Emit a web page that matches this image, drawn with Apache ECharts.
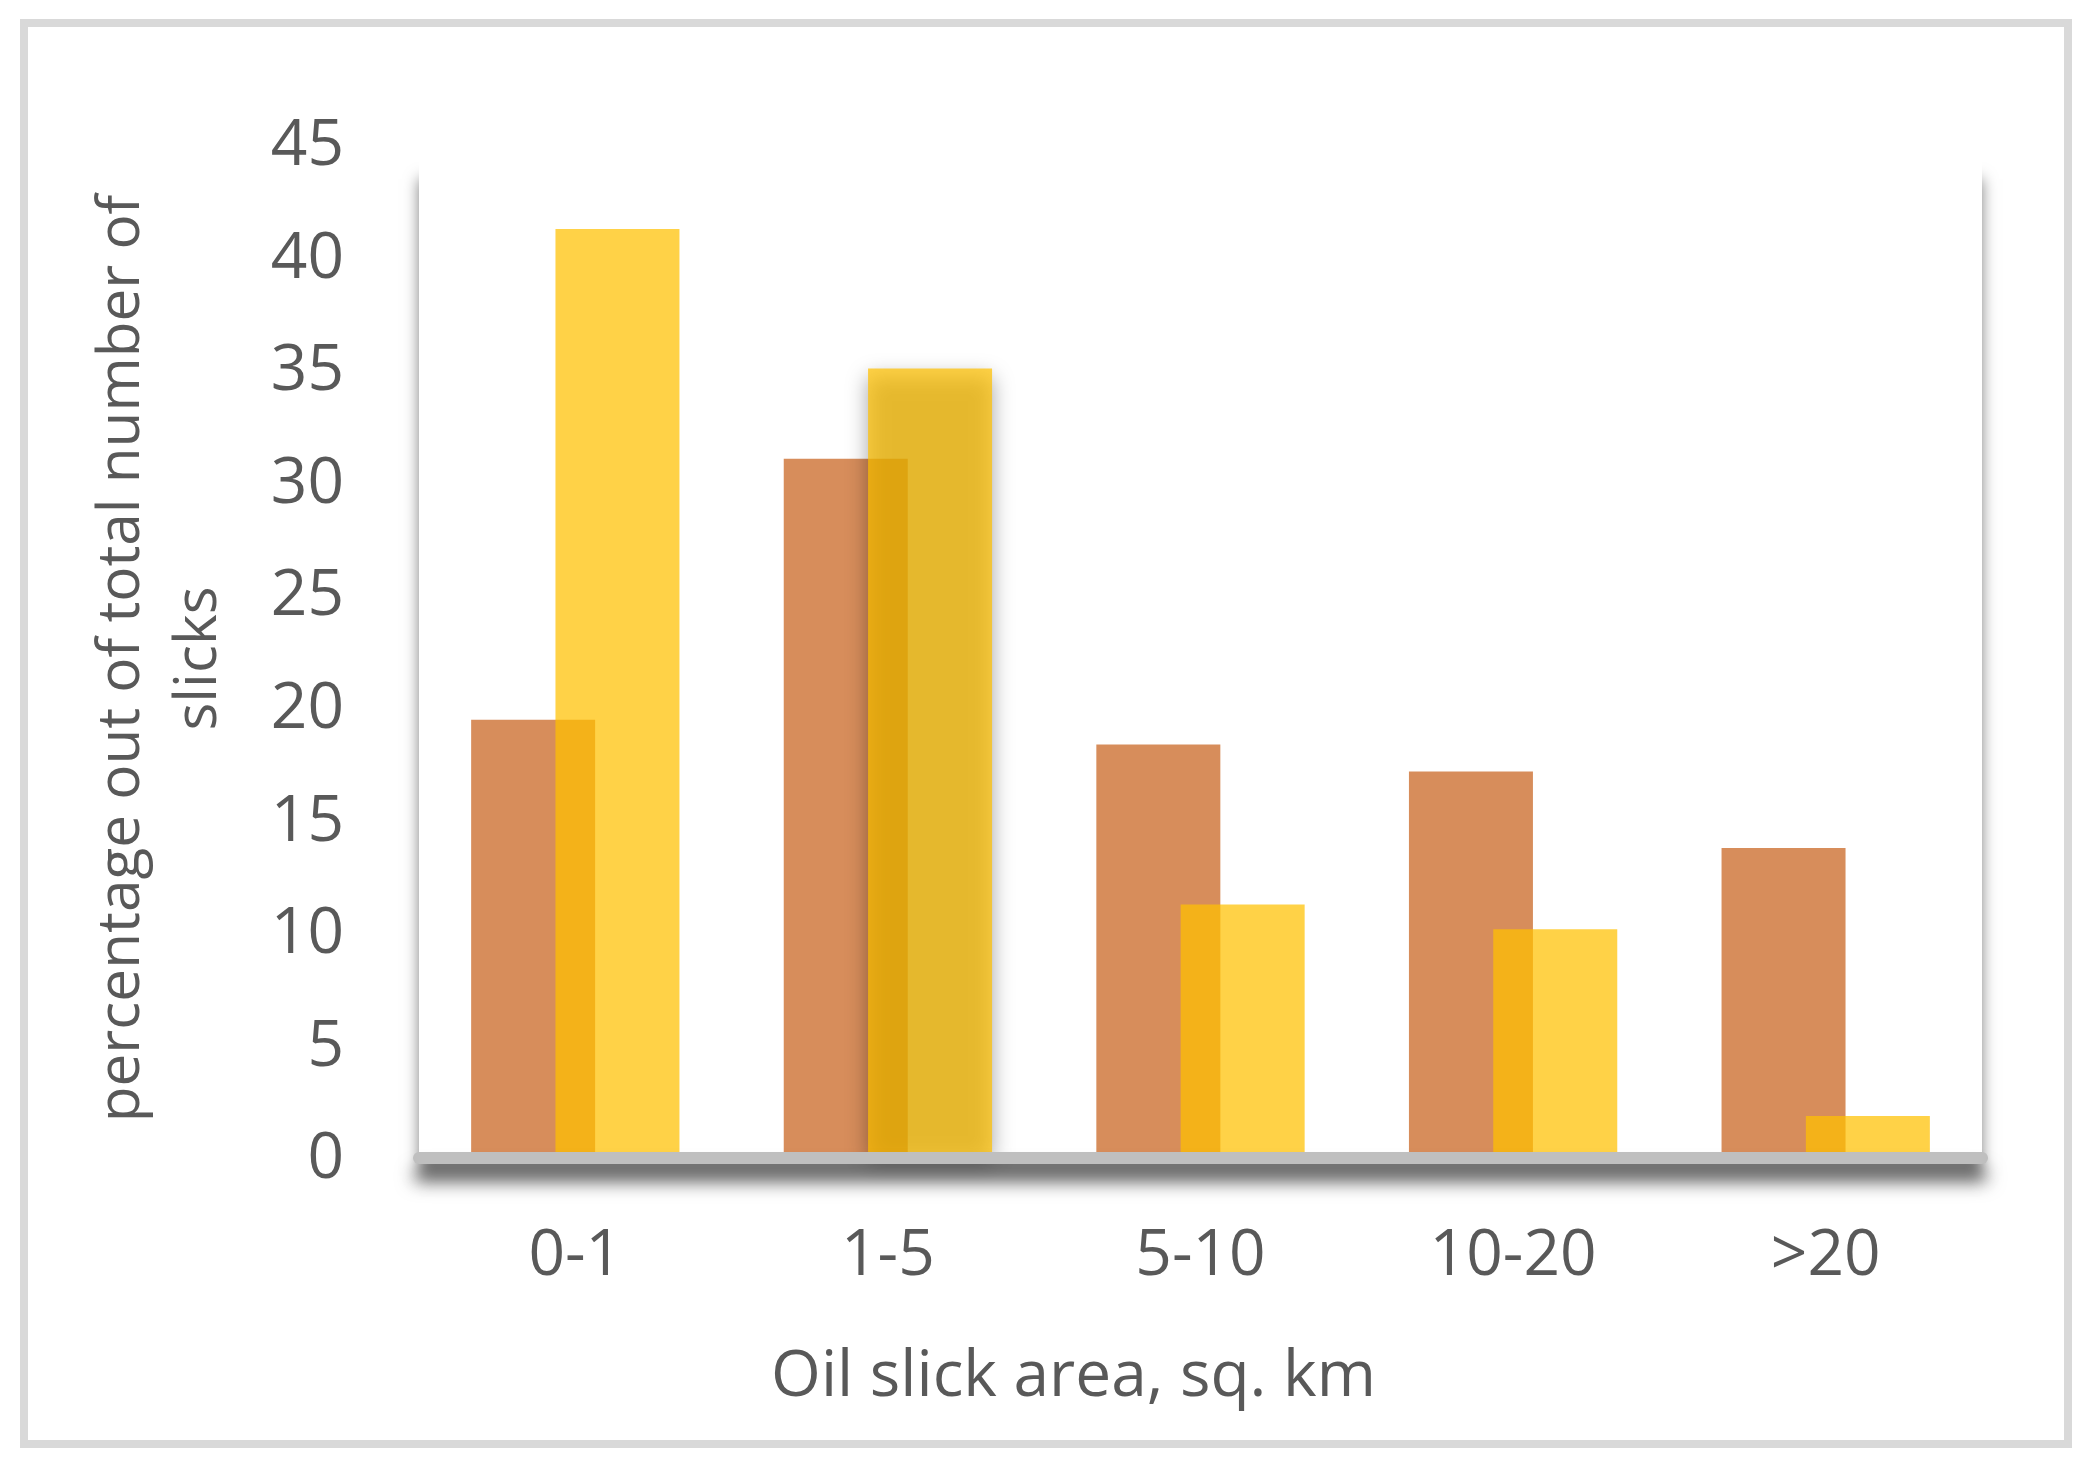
<!DOCTYPE html>
<html>
<head>
<meta charset="utf-8">
<script src="https://cdn.jsdelivr.net/npm/echarts@6/dist/echarts.min.js"></script>
<style>
  html, body { margin: 0; padding: 0; background: #fff; }
  #chart { width: 2091px; height: 1484px; }
</style>
</head>
<body>
<div id="chart"></div>
<script>
const categories = ["0-1", "1-5", "5-10", "10-20", ">20"];
const orangeValues = [19.2, 30.8, 18.1, 16.9, 13.5];
const yellowValues = [41.0, 34.8, 11.0, 9.9, 1.6];
const yTicks = [0, 5, 10, 15, 20, 25, 30, 35, 40, 45];

const textColor = "#595959";
const fontFamily = "'Open Sans', 'Noto Sans', sans-serif";

const chart = echarts.init(document.getElementById("chart"));

// the 1-5 yellow bar has a soft shadow falling over it in the original
const yellowData = yellowValues.map((v, i) =>
  i === 1
    ? {
        value: v,
        itemStyle: {
          shadowBlur: 20,
          shadowOffsetY: 8,
          shadowColor: "rgba(0, 0, 0, 0.5)",
        },
      }
    : v
);

const option = {
  animation: false,
  backgroundColor: "#ffffff",
  textStyle: { fontFamily: fontFamily },
  graphic: [
    {
      // outer frame
      type: "rect",
      z: -10,
      shape: { x: 24, y: 23, width: 2044, height: 1421 },
      style: { fill: "#ffffff", stroke: "#d9d9d9", lineWidth: 8 },
    },
    {
      // plot area panel with shadow
      type: "rect",
      z: -5,
      shape: { x: 419, y: 155, width: 1563, height: 997 },
      style: {
        fill: "#ffffff",
        shadowBlur: 14,
        shadowOffsetY: 24,
        shadowColor: "rgba(0, 0, 0, 0.5)",
      },
    },
  ],
  grid: {
    left: 419,
    right: 109,
    top: 139,
    bottom: 332,
    containLabel: false,
  },
  xAxis: {
    type: "category",
    data: categories,
    offset: 6,
    z: 5,
    axisLine: {
      show: true,
      onZero: false,
      lineStyle: {
        color: "#bfbfbf",
        width: 12,
        shadowColor: "rgba(0, 0, 0, 0.55)",
        shadowBlur: 18,
        shadowOffsetY: 18,
      },
    },
    axisTick: { show: false },
    axisLabel: {
      color: textColor,
      fontSize: 64,
      margin: 67,
    },
    name: "Oil slick area, sq. km",
    nameLocation: "middle",
    nameGap: 188,
    nameTextStyle: {
      color: textColor,
      fontSize: 64,
      padding: [0, 254, 0, 0],
    },
  },
  yAxis: {
    type: "value",
    min: 0,
    max: 45,
    interval: 5,
    axisLine: { show: false },
    axisTick: { show: false },
    splitLine: { show: false },
    axisLabel: {
      color: textColor,
      fontSize: 64,
      margin: 75,
      verticalAlign: "top",
      lineHeight: 16,
      formatter: (v) => (yTicks.includes(v) ? String(v) : ""),
    },
    name: "percentage out of total number of\nslicks",
    nameLocation: "middle",
    nameRotate: 90,
    nameGap: 181,
    nameTextStyle: {
      color: textColor,
      fontSize: 58.5,
      lineHeight: 77,
      align: "center",
      padding: [0, 26, 0, 0],
    },
  },
  series: [
    {
      name: "orange",
      type: "bar",
      data: orangeValues,
      barWidth: 124,
      barGap: "-32%",
      itemStyle: { color: "rgba(197, 90, 17, 0.69)" },
    },
    {
      name: "yellow",
      type: "bar",
      data: yellowData,
      barWidth: 124,
      barGap: "-32%",
      itemStyle: { color: "rgba(255, 192, 0, 0.72)" },
    },
  ],
};

chart.setOption(option);
window.addEventListener("resize", () => chart.resize());
</script>
</body>
</html>
